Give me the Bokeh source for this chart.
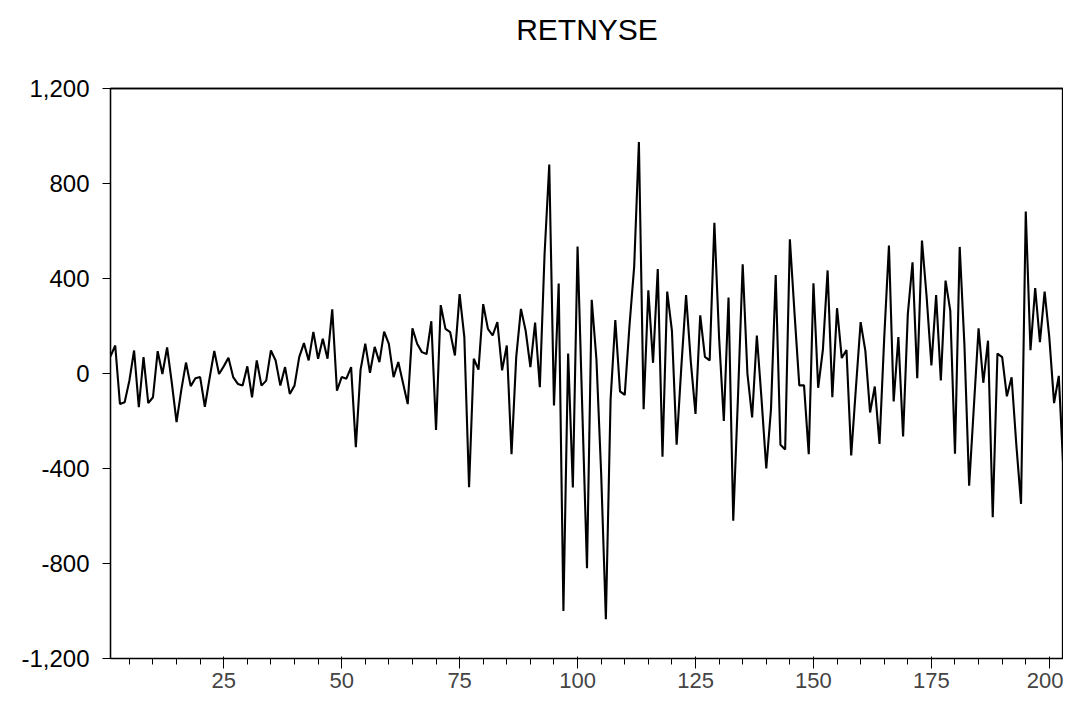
from bokeh.plotting import figure
from bokeh.models import Range1d, FixedTicker, NumeralTickFormatter, LinearAxis
from bokeh.embed import file_html
from bokeh.resources import INLINE

title_text = "RETNYSE"
obs = list(range(1, 204))
retnyse = [
    72, 118, -128, -121, -30, 97, -142, 69, -125, -100,
    94, -2, 110, -40, -205, -70, 46, -53, -20, -15,
    -140, -20, 95, -2, 30, 66, -15, -44, -51, 30,
    -100, 55, -51, -30, 97, 55, -51, 27, -86, -51,
    69, 128, 55, 175, 62, 146, 62, 270, -72, -15,
    -22, 27, -310, 15, 126, 3, 112, 48, 176, 125,
    -15, 48, -40, -129, 190, 125, 90, 82, 220, -238,
    288, 188, 174, 76, 334, 153, -479, 62, 16, 292,
    188, 160, 216, 13, 118, -340, 70, 272, 180, 27,
    214, -58, 500, 880, -135, 379, -1000, 84, -480, 535,
    -150, -820, 310, 60, -420, -1035, -110, 225, -75, -90,
    200, 450, 975, -150, 350, 45, 440, -350, 345, 180,
    -300, 30, 330, 50, -170, 245, 70, 55, 635, 150,
    -200, 320, -620, -100, 460, 0, -185, 160, -110, -400,
    -150, 415, -300, -320, 565, 250, -50, -50, -340, 380,
    -60, 100, 434, -100, 275, 65, 99, -345, -60, 216,
    95, -164, -55, -297, 150, 539, -118, 153, -265, 250,
    468, -20, 560, 320, 34, 330, -29, 391, 265, -338,
    533, 120, -472, -140, 190, -39, 138, -605, 84, 69,
    -96, -16, -300, -549, 682, 98, 360, 132, 345, 150,
    -125, -10, -415,
]
x_major = [25, 50, 75, 100, 125, 150, 175, 200]
x_minor = list(range(5, 205, 5))
y_ticks = [-1200, -800, -400, 0, 400, 800, 1200]
x_start, x_end = 1, 203
title_pos = (x_start + x_end) / 2

p = figure(
    frame_width=953, frame_height=570,
    min_border_left=110, min_border_right=0, min_border_top=88, min_border_bottom=44,
    x_range=Range1d(x_start, x_end), y_range=Range1d(-1200, 1200),
    output_backend="svg", toolbar_location=None,
    background_fill_color="white", border_fill_color="white",
)

# title drawn as the single label of a bare axis above the frame
title_axis = LinearAxis(
    ticker=FixedTicker(ticks=[title_pos]),
    major_label_overrides={title_pos: title_text},
    axis_line_color=None,
    major_tick_line_color=None, minor_tick_line_color=None,
    major_tick_out=0, major_tick_in=0, minor_tick_out=0, minor_tick_in=0,
    major_label_standoff=43,
    major_label_text_font="Liberation Sans",
    major_label_text_font_size="30px",
    major_label_text_color="black",
)
p.add_layout(title_axis, "above")

p.xgrid.visible = False
p.ygrid.visible = False
p.outline_line_color = "black"
p.outline_line_width = 1.3

p.line(obs, retnyse, line_color="black", line_width=2.1)

for ax in (p.xaxis[0], p.yaxis[0]):
    ax.axis_line_color = "black"
    ax.axis_line_width = 1.3
    ax.major_tick_line_color = "black"
    ax.minor_tick_line_color = "black"
    ax.major_tick_in = 0
    ax.minor_tick_in = 0
    ax.major_label_text_font = "Liberation Sans"
    ax.major_label_text_color = "black"

bottom = p.below[0]
bottom.ticker = FixedTicker(ticks=x_major, minor_ticks=x_minor)
bottom.major_tick_out = 10
bottom.minor_tick_out = 6
bottom.major_label_standoff = 4
bottom.major_label_text_font_size = "22px"

p.yaxis.ticker = FixedTicker(ticks=y_ticks)
p.yaxis.formatter = NumeralTickFormatter(format="0,0")
p.yaxis.major_tick_out = 8
p.yaxis.minor_tick_out = 0
p.yaxis.minor_tick_line_color = None
p.yaxis.major_label_standoff = 13
p.yaxis.major_label_text_font_size = "24px"

open("out.html", "w").write(file_html(p, INLINE))
